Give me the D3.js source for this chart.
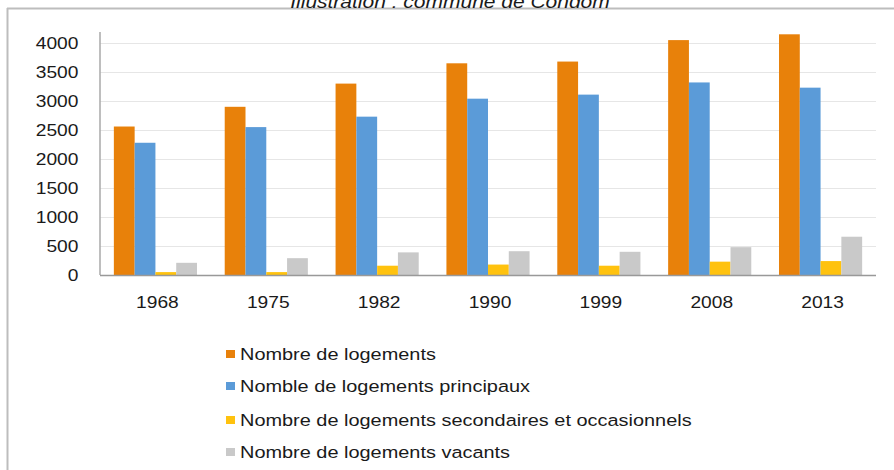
<!DOCTYPE html>
<html><head><meta charset="utf-8">
<script src="https://cdn.jsdelivr.net/npm/d3@7"></script>
<style>body{margin:0;background:#fff}svg{display:block}text{font-family:"Liberation Sans",Arial,sans-serif;fill:#1a1a1a}</style>
</head><body>
<svg id="c" width="894" height="470"></svg>
<script>
const title = "Illustration : commune de Condom";
const years = ["1968","1975","1982","1990","1999","2008","2013"];
const seriesNames = ["Nombre de logements","Nomble de logements principaux","Nombre de logements secondaires et occasionnels","Nombre de logements vacants"];
const logements    = [2560, 2900, 3300, 3650, 3680, 4050, 4150];
const principaux   = [2280, 2550, 2730, 3040, 3110, 3320, 3230];
const secondaires  = [50, 50, 160, 180, 160, 230, 240];
const vacants      = [210, 290, 390, 410, 400, 480, 660];
const yTicks = [0,500,1000,1500,2000,2500,3000,3500,4000];
const colors = ["#E8810A","#5B9BD8","#FFC20E","#C9C9C9"];

const series = [logements, principaux, secondaires, vacants];
const svg = d3.select("#c");
const SX = 1.2;
const L = 100, R = 876, T = 43, B = 275;

// frame
svg.append("line").attr("x1",7).attr("x2",894).attr("y1",8.5).attr("y2",8.5).attr("stroke","#bdbdbd").attr("stroke-width",2);
svg.append("line").attr("x1",7.5).attr("x2",7.5).attr("y1",8).attr("y2",470).attr("stroke","#bdbdbd").attr("stroke-width",2);

// title
svg.append("g").attr("transform","translate(450,8) scale("+SX+",1)")
  .append("text").attr("text-anchor","middle").attr("font-style","italic").attr("font-size",17.5).text(title);

const y = d3.scaleLinear().domain([0,4000]).range([B,T]);
const x0 = d3.scaleBand().domain(years).range([L,R]).paddingInner(0.25).paddingOuter(0.125);
const x1 = d3.scaleBand().domain(d3.range(series.length)).range([0,x0.bandwidth()]);

// gridlines
svg.append("g").selectAll("line").data(yTicks.filter(d=>d>0)).join("line")
  .attr("x1",L).attr("x2",R).attr("y1",d=>y(d)+0.5).attr("y2",d=>y(d)+0.5)
  .attr("stroke","#e6e6e6").attr("stroke-width",1);

// bars
const gs = svg.append("g").selectAll("g").data(years).join("g")
  .attr("transform",d=>`translate(${x0(d)},0)`);
gs.selectAll("rect").data((d,i)=>series.map((s,k)=>({k,v:s[i]}))).join("rect")
  .attr("x",d=>x1(d.k)).attr("width",x1.bandwidth())
  .attr("y",d=>y(d.v)).attr("height",d=>B-y(d.v))
  .attr("fill",d=>colors[d.k]);

// axes lines
svg.append("line").attr("x1",L).attr("x2",L).attr("y1",32).attr("y2",B).attr("stroke","#a8a8a8").attr("stroke-width",1.5);
svg.append("line").attr("x1",L).attr("x2",R).attr("y1",B+0.5).attr("y2",B+0.5).attr("stroke","#999").attr("stroke-width",1.5);

// y axis
const ya = svg.append("g").attr("transform",`translate(${L},0)`)
  .call(d3.axisLeft(y).tickValues(yTicks).tickSize(0).tickPadding(18).tickFormat(d3.format("d")));
ya.select(".domain").remove();
ya.selectAll("text").attr("font-size",16).attr("font-family","Liberation Sans, Arial, sans-serif").attr("fill","#1a1a1a")
  .attr("transform","scale("+SX+",1)");

// x axis
const xa = svg.append("g").attr("transform",`translate(2,${B})`)
  .call(d3.axisBottom(x0).tickSize(0).tickPadding(22));
xa.select(".domain").remove();
xa.selectAll(".tick text").each(function(){
  d3.select(this).attr("font-size",16).attr("font-family","Liberation Sans, Arial, sans-serif").attr("fill","#1a1a1a")
   .attr("transform","scale("+SX+",1)");
});

// legend
const legY = [354, 386, 420, 452];
const lg = svg.append("g").selectAll("g").data(seriesNames).join("g")
  .attr("transform",(d,i)=>`translate(226,${legY[i]})`);
lg.append("rect").attr("x",0).attr("y",-4).attr("width",9).attr("height",8).attr("fill",(d,i)=>colors[i]);
lg.append("g").attr("transform","translate(14,0) scale("+SX+",1)")
  .append("text").attr("dy","0.36em").attr("font-size",16.6).text(d=>d);
</script>
</body></html>
